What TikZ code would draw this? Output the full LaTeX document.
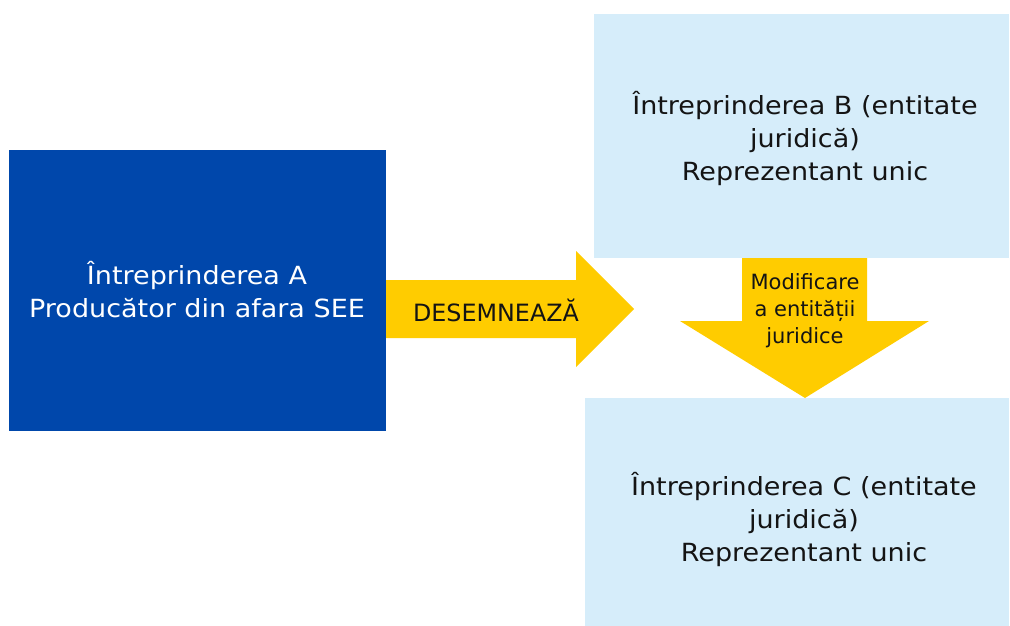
\documentclass[tikz,border=0pt]{standalone}
\usepackage{fontspec}
\setmainfont{DejaVu Sans}
\newfontfamily\boxfont[FakeStretch=1.08]{DejaVu Sans}
\definecolor{darkblue}{RGB}{0,71,171}
\definecolor{lightblue}{RGB}{214,237,250}
\definecolor{gold}{RGB}{255,204,0}
\definecolor{txt}{RGB}{20,20,20}
\begin{document}
\begin{tikzpicture}[x=1pt,y=-1pt,
  box/.style={inner sep=0pt,outer sep=0pt,draw=none},
  label/.style={align=center,inner sep=0pt,text=txt},
  bigtext/.style={font=\boxfont\fontsize{25}{33}\selectfont},
  arrowtext/.style={font=\fontsize{23.8}{26}\selectfont},
  smalltext/.style={font=\fontsize{21}{27}\selectfont}]
\useasboundingbox[fill=white] (0,0) rectangle (1010,626);
% boxes
\fill[darkblue] (9,150) rectangle (386,431);
\node[box] (A) at (197.5,290.5) {};
\fill[lightblue] (594,14) rectangle (1009,258);
\node[box] (B) at (801.5,136) {};
\fill[lightblue] (585,398) rectangle (1009,626);
\node[box] (C) at (797,512) {};
% right arrow
\fill[gold] (386,280) -- (576,280) -- (576,251) -- (634,309) -- (576,367) -- (576,338) -- (386,338) -- cycle;
% down arrow
\fill[gold] (742,258) -- (867,258) -- (867,321) -- (929,321) -- (805,398) -- (680,321) -- (742,321) -- cycle;
% texts
\node[label,bigtext,text=white] (tA) at (197,290) {Întreprinderea A\\Producător din afara SEE};
\node[label,bigtext] (tB) at (805,138) {Întreprinderea B (entitate\\juridică)\\Reprezentant unic};
\node[label,bigtext] (tC) at (804,519) {Întreprinderea C (entitate\\juridică)\\Reprezentant unic};
\node[label,arrowtext] (tD) at (496,310) {DESEMNEAZĂ};
\node[label,smalltext] (tM) at (805,311) {Modificare\\a entității\\juridice};
\end{tikzpicture}
\end{document}
